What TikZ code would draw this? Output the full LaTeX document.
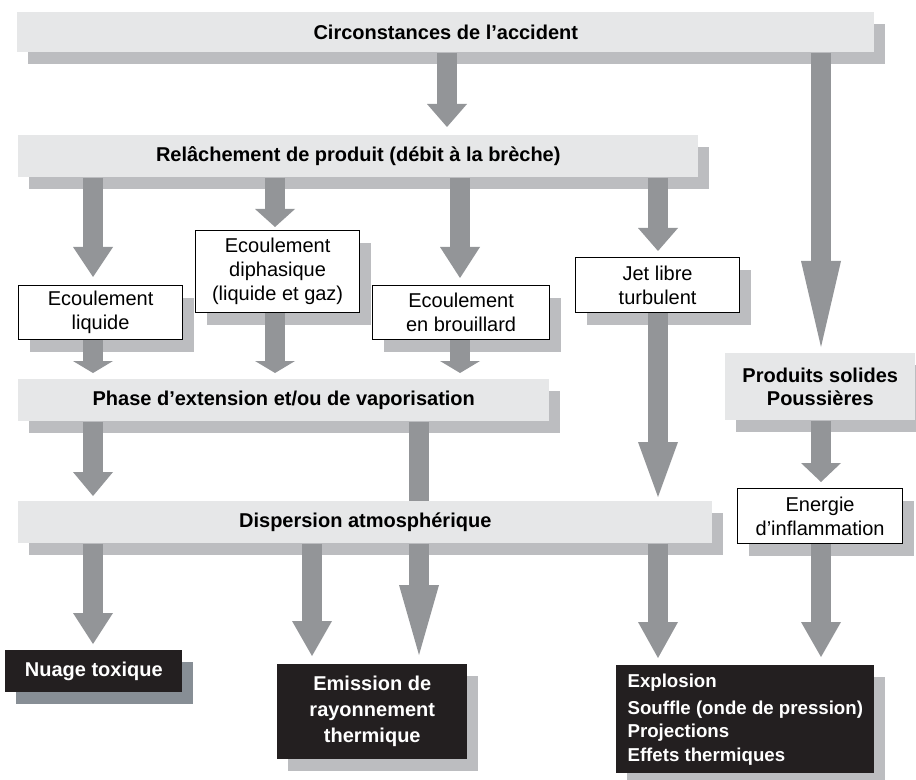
\documentclass[tikz,border=0pt]{standalone}
\usepackage{fontspec}
\setmainfont{Liberation Sans}
\usetikzlibrary{arrows.meta}

\definecolor{platefill}{HTML}{E6E7E8}
\definecolor{shadowgray}{HTML}{BCBDC0}
\definecolor{slategray}{HTML}{878E95}
\definecolor{arrowgray}{HTML}{939598}
\definecolor{inkblack}{HTML}{231F20}

\tikzset{
  drop/.style={preaction={fill=#1, transform canvas={shift={(11,-12)}}}},
  drop/.default=shadowgray,
  box/.style={anchor=north west, inner sep=0pt, align=center,
    font=\fontsize{15pt}{18pt}\selectfont},
  plate/.style={box, fill=platefill, drop, font=\fontsize{15pt}{17.5pt}\selectfont\bfseries},
  card/.style={box, fill=white, draw=black, line width=0.9pt, drop},
  dark/.style={box, fill=inkblack, text=white, font=\fontsize{15pt}{19.5pt}\selectfont\bfseries},
  flow/.style={draw=arrowgray, line width=15pt,
    -{Triangle[width=30pt, length=#1, line width=0pt]}},
  flow/.default=17.25pt,
  bar/.style={draw=arrowgray, line width=15pt}
}

\begin{document}
\begin{tikzpicture}[x=0.75pt,y=0.75pt,yscale=-1,xscale=1]
\useasboundingbox (0,0) rectangle (916,780);

% columns of the arrows
\coordinate (c1) at (93,0);
\coordinate (c2) at (275,0);
\coordinate (c3) at (460,0);
\coordinate (c4) at (658,0);
\coordinate (c5) at (821,0);
\coordinate (c6) at (447,0);
\coordinate (c7) at (419,0);
\coordinate (c8) at (312,0);

% gray bands
\node [plate, minimum width=642.75pt, minimum height=30pt] (circ) at (17,12) {Circonstances de l’accident};
\node [plate, minimum width=510pt, minimum height=31.5pt] (rel) at (18,135) {Relâchement de produit (débit à la brèche)};
\node [plate, minimum width=398.25pt, minimum height=31.5pt] (phase) at (18,379) {Phase d’extension et/ou de vaporisation};
\node [plate, minimum width=520.5pt, minimum height=31.5pt] (disp) at (18,501) {Dispersion atmosphérique};
\node [plate, minimum width=142.5pt, minimum height=50.25pt] (prod) at (725,353) {Produits solides\\Poussières};

% framed boxes
\node [card, minimum width=123pt, minimum height=40.5pt] (liq) at (18,285) {Ecoulement\\liquide};
\node [card, minimum width=123pt, minimum height=61.5pt] (diph) at (195,230) {Ecoulement\\diphasique\\(liquide et gaz)};
\node [card, minimum width=132.75pt, minimum height=40.5pt] (brou) at (372,285) {Ecoulement\\en brouillard};
\node [card, minimum width=123pt, minimum height=41.25pt] (jet) at (575,257) {Jet libre\\turbulent};
\node [card, minimum width=123.75pt, minimum height=41.25pt] (ener) at (737,488) {Energie\\d’inflammation};

% effects
\node [dark, drop=slategray, minimum width=132.75pt, minimum height=31.5pt] (nuage) at (5,650) {Nuage toxique};
\node [dark, drop, minimum width=142.5pt, minimum height=71.25pt] (emis) at (277,664) {Emission de\\rayonnement\\thermique};
\node [dark, drop, minimum width=193.5pt, minimum height=81pt, align=left,
  font=\fontsize{14pt}{17.5pt}\selectfont\bfseries] (expl) at (616,665)
  {Explosion\\[3pt]Souffle (onde de pression)\\Projections\\Effets thermiques};

% arrows
\draw [flow=17.25pt, shorten >=6pt] (circ.south -| c6) -- (rel.north -| c6);
\draw [flow=64.5pt, shorten >=4.5pt] (circ.south -| c5) -- (prod.north -| c5);

\draw [flow=22.5pt, shorten >=6pt] (rel.south -| c1) -- (liq.north -| c1);
\draw [flow=13.5pt, shorten >=2.25pt] (rel.south -| c2) -- (diph.north -| c2);
\draw [flow=23.25pt, shorten >=5.25pt] (rel.south -| c3) -- (brou.north -| c3);
\draw [flow=17.25pt, shorten >=4.5pt] (rel.south -| c4) -- (jet.north -| c4);

\draw [flow=9pt, shorten >=4.5pt] (liq.south -| c1) -- (phase.north -| c1);
\draw [flow=9pt, shorten >=4.5pt] (diph.south -| c2) -- (phase.north -| c2);
\draw [flow=9pt, shorten >=4.5pt] (brou.south -| c3) -- (phase.north -| c3);

\draw [flow=18pt, shorten >=3.75pt] (phase.south -| c1) -- (disp.north -| c1);
\draw [bar] (phase.south -| c7) -- (disp.north -| c7);
\draw [flow=41.25pt, shorten >=3pt] (jet.south -| c4) -- (disp.north -| c4);
\draw [flow=14.25pt, shorten >=4.5pt] (prod.south -| c5) -- (ener.north -| c5);

\draw [flow=23.25pt, shorten >=4.5pt] (disp.south -| c1) -- (nuage.north -| c1);
\draw [flow=26.25pt, shorten >=6pt] (disp.south -| c8) -- (emis.north -| c8);
\draw [flow=52.5pt, shorten >=6.75pt] (disp.south -| c7) -- (emis.north -| c7);
\draw [flow=27pt, shorten >=5.25pt] (disp.south -| c4) -- (expl.north -| c4);
\draw [flow=26.25pt, shorten >=6pt] (ener.south -| c5) -- (expl.north -| c5);

\end{tikzpicture}
\end{document}
